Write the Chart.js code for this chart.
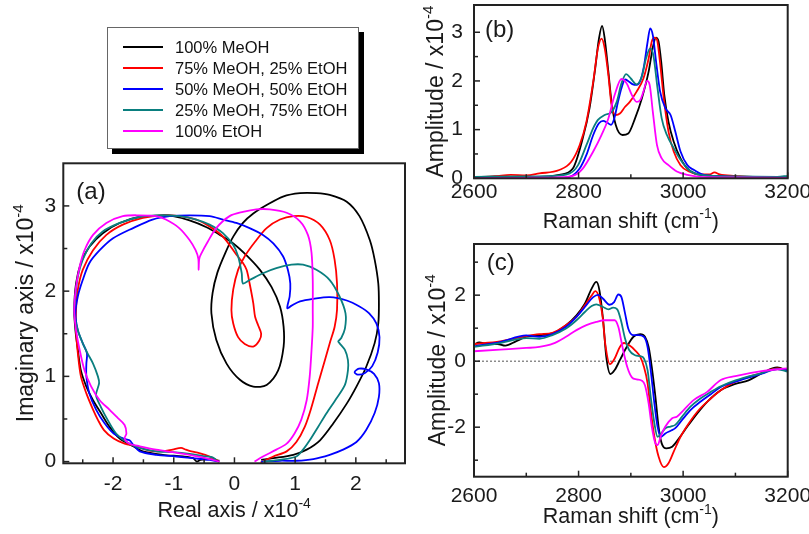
<!DOCTYPE html>
<html>
<head>
<meta charset="utf-8">
<script src="https://cdn.jsdelivr.net/npm/chart.js@4.4.1/dist/chart.umd.min.js"></script>
<style>
  body { margin: 0; background: #fff; }
  #wrap { position: relative; width: 809px; height: 534px; overflow: hidden; background: #fff; font-family: "Liberation Sans", Arial, sans-serif; }
  canvas { position: absolute; }
  #legend { position: absolute; left: 107px; top: 27px; width: 250px; height: 120px; border: 1px solid #666; background: #fff; box-shadow: 5px 5px 0 #000; }
  .row { position: absolute; left: 0; height: 20px; width: 240px; }
  .row i { position: absolute; left: 15px; top: 9px; width: 40px; height: 2px; }
  .row span { position: absolute; left: 67px; top: 0; font-size: 16.5px; line-height: 20px; white-space: nowrap; color: #111; }
</style>
</head>
<body>
<div id="wrap">
  <canvas id="chartA" width="410" height="394" style="left:0;top:140px"></canvas>
  <canvas id="chartC" width="399" height="304" style="left:410px;top:230px"></canvas>
  <canvas id="chartB" width="399" height="236" style="left:410px;top:0"></canvas>
  <div id="legend"></div>
</div>
<script>
// series names (legend) and line colours
const SERIES = ['100% MeOH', '75% MeOH, 25% EtOH', '50% MeOH, 50% EtOH', '25% MeOH, 75% EtOH', '100% EtOH'];
const COLORS = ['#000000', '#ff0000', '#0000ff', '#0a7f7f', '#ff00ff'];

// tick values
const A_X_TICKS = [-2, -1, 0, 1, 2];
const A_X_MINOR = [-2.5, -1.5, -0.5, 0.5, 1.5, 2.5];
const A_Y_TICKS = [0, 1, 2, 3];
const A_Y_MINOR = [0.5, 1.5, 2.5];
const RAMAN_TICKS = [2600, 2800, 3000, 3200];
const RAMAN_MINOR = [2700, 2900, 3100];
const B_Y_TICKS = [0, 1, 2, 3];
const B_Y_MINOR = [0.5, 1.5, 2.5];
const C_Y_TICKS = [-2, 0, 2];
const C_Y_MINOR = [-3, -1, 1, 3];

// (a) complex plane: [real, imaginary] x1e-4
const A_MEOH = [[0.44,0.02],[0.64,0.04],[0.97,0.08],[1.19,0.14],[1.41,0.25],[1.63,0.45],[1.85,0.68],[2.01,0.88],[2.17,1.11],[2.31,1.39],[2.37,1.62],[2.38,1.85],[2.37,2.09],[2.31,2.37],[2.23,2.6],[2.06,2.88],[1.85,3.05],[1.57,3.13],[1.35,3.15],[1.08,3.15],[0.80,3.11],[0.53,3.01],[0.31,2.91],[0.14,2.80],[-0.02,2.64],[-0.15,2.45],[-0.28,2.22],[-0.36,1.98],[-0.38,1.74],[-0.30,1.43],[-0.13,1.15],[0.09,0.96],[0.31,0.88],[0.53,0.90],[0.72,1.07],[0.81,1.35],[0.81,1.58],[0.75,1.82],[0.61,2.05],[0.42,2.25],[0.20,2.42],[-0.02,2.56],[-0.24,2.66],[-0.46,2.75],[-0.74,2.83],[-1.01,2.88],[-1.18,2.89],[-1.57,2.87],[-1.89,2.80],[-2.17,2.68],[-2.39,2.52],[-2.53,2.33],[-2.61,2.09],[-2.64,1.78],[-2.62,1.54],[-2.58,1.31],[-2.53,1.07],[-2.44,0.88],[-2.33,0.72],[-2.20,0.57],[-2.06,0.41],[-1.89,0.27],[-1.67,0.18],[-1.51,0.12],[-1.18,0.08],[-0.85,0.06],[-0.68,0.04],[-0.62,0.0],[-0.56,0.02],[-0.41,0.03],[-0.25,0.01]];
const A_MIX75 = [[0.43,-0.01],[0.64,0.06],[0.86,0.12],[1.02,0.23],[1.16,0.41],[1.27,0.64],[1.38,0.92],[1.49,1.19],[1.57,1.39],[1.65,1.58],[1.69,1.78],[1.69,2.09],[1.65,2.37],[1.57,2.60],[1.41,2.78],[1.19,2.87],[0.97,2.88],[0.75,2.84],[0.53,2.74],[0.34,2.58],[0.17,2.41],[0.06,2.25],[-0.02,2.02],[-0.05,1.78],[-0.02,1.62],[0.06,1.46],[0.17,1.38],[0.31,1.35],[0.41,1.42],[0.44,1.50],[0.39,1.60],[0.34,1.70],[0.31,1.86],[0.25,2.09],[0.20,2.25],[0.14,2.33],[0.03,2.43],[-0.19,2.64],[-0.41,2.76],[-0.63,2.84],[-0.91,2.88],[-1.18,2.89],[-1.51,2.86],[-1.84,2.78],[-2.11,2.66],[-2.33,2.48],[-2.50,2.25],[-2.58,2.02],[-2.61,1.78],[-2.61,1.54],[-2.58,1.27],[-2.53,1.0],[-2.44,0.80],[-2.33,0.61],[-2.25,0.49],[-2.15,0.37],[-1.99,0.27],[-1.81,0.21],[-1.62,0.18],[-1.40,0.13],[-1.18,0.12],[-1.02,0.14],[-0.88,0.16],[-0.80,0.14],[-0.71,0.12],[-0.58,0.10],[-0.41,0.06],[-0.25,0.0]];
const A_MIX50 = [[0.44,0.0],[0.75,0.01],[1.02,0.01],[1.30,0.03],[1.57,0.08],[1.79,0.14],[2.01,0.23],[2.17,0.37],[2.31,0.57],[2.38,0.76],[2.38,0.92],[2.30,1.03],[2.18,1.08],[2.05,1.09],[1.98,1.05],[2.03,1.02],[2.15,1.04],[2.27,1.12],[2.36,1.28],[2.39,1.46],[2.34,1.62],[2.22,1.74],[2.06,1.82],[1.85,1.89],[1.57,1.93],[1.30,1.91],[1.08,1.88],[0.94,1.83],[0.87,1.80],[0.91,1.94],[0.92,2.09],[0.88,2.25],[0.80,2.41],[0.64,2.56],[0.47,2.66],[0.25,2.74],[0.03,2.80],[-0.19,2.84],[-0.41,2.88],[-0.74,2.89],[-1.07,2.88],[-1.35,2.84],[-1.67,2.74],[-2.0,2.62],[-2.22,2.48],[-2.39,2.33],[-2.50,2.13],[-2.58,1.94],[-2.62,1.74],[-2.58,1.54],[-2.50,1.39],[-2.43,1.27],[-2.44,1.15],[-2.44,1.0],[-2.39,0.80],[-2.28,0.61],[-2.14,0.45],[-1.99,0.33],[-1.83,0.27],[-1.73,0.25],[-1.67,0.20],[-1.56,0.12],[-1.29,0.08],[-0.96,0.06],[-0.69,0.04],[-0.41,0.02],[-0.25,0.0]];
const A_MIX25 = [[0.47,0.0],[0.75,0.02],[1.02,0.06],[1.13,0.14],[1.24,0.25],[1.38,0.41],[1.52,0.57],[1.68,0.74],[1.82,0.90],[1.87,1.07],[1.87,1.19],[1.82,1.31],[1.73,1.39],[1.71,1.41],[1.76,1.45],[1.82,1.56],[1.83,1.74],[1.73,1.94],[1.57,2.13],[1.35,2.25],[1.13,2.31],[0.94,2.31],[0.69,2.27],[0.47,2.21],[0.25,2.13],[0.14,2.09],[0.12,2.21],[0.06,2.41],[-0.02,2.54],[-0.19,2.68],[-0.41,2.78],[-0.63,2.84],[-0.91,2.88],[-1.24,2.89],[-1.57,2.87],[-1.89,2.80],[-2.17,2.70],[-2.36,2.56],[-2.50,2.37],[-2.58,2.17],[-2.62,1.94],[-2.64,1.74],[-2.58,1.54],[-2.50,1.39],[-2.42,1.27],[-2.33,1.15],[-2.25,1.0],[-2.23,0.92],[-2.28,0.78],[-2.20,0.64],[-2.09,0.49],[-1.95,0.33],[-1.78,0.23],[-1.56,0.16],[-1.29,0.12],[-1.02,0.11],[-0.74,0.09],[-0.47,0.06],[-0.36,0.05],[-0.30,0.02]];
const A_ETOH = [[0.33,0.0],[0.47,0.06],[0.69,0.14],[0.86,0.21],[0.99,0.33],[1.10,0.49],[1.19,0.72],[1.24,1.0],[1.27,1.31],[1.29,1.58],[1.29,1.78],[1.29,2.13],[1.27,2.45],[1.21,2.66],[1.08,2.82],[0.86,2.92],[0.58,2.96],[0.36,2.96],[0.14,2.93],[-0.08,2.88],[-0.30,2.74],[-0.44,2.58],[-0.54,2.45],[-0.58,2.38],[-0.59,2.25],[-0.595,2.38],[-0.64,2.48],[-0.74,2.60],[-0.91,2.74],[-1.13,2.84],[-1.29,2.88],[-1.57,2.89],[-1.84,2.88],[-2.11,2.80],[-2.33,2.66],[-2.47,2.48],[-2.55,2.29],[-2.61,2.05],[-2.64,1.78],[-2.61,1.54],[-2.55,1.31],[-2.47,1.07],[-2.36,0.88],[-2.22,0.72],[-2.06,0.61],[-1.92,0.51],[-1.81,0.43],[-1.78,0.33],[-1.81,0.27],[-1.73,0.21],[-1.56,0.18],[-1.29,0.14],[-1.02,0.11],[-0.74,0.08],[-0.47,0.04],[-0.25,0.0]];

// (b) amplitude: [Raman shift cm-1, amplitude x1e-4]
const B_MEOH = [[2600,0.02],[2640,0.04],[2680,0.03],[2725,0.03],[2763,0.07],[2789,0.2],[2808,0.82],[2821,1.44],[2831,2.19],[2839,2.87],[2845,3.13],[2850,2.87],[2857,2.19],[2863,1.57],[2871,1.10],[2884,0.89],[2895,0.92],[2908,1.23],[2921,1.64],[2934,2.19],[2943,2.74],[2948,2.89],[2953,2.81],[2958,2.40],[2964,1.71],[2972,1.16],[2982,0.75],[2995,0.41],[3011,0.17],[3033,0.07],[3080,0.04],[3130,0.01],[3160,0.0],[3200,0.02]];
const B_MIX75 = [[2600,0.02],[2640,0.04],[2670,0.07],[2700,0.06],[2725,0.10],[2763,0.17],[2786,0.34],[2802,0.68],[2815,1.16],[2828,1.98],[2837,2.67],[2844,2.87],[2850,2.67],[2857,2.12],[2863,1.51],[2871,1.30],[2879,1.33],[2889,1.47],[2898,1.57],[2911,1.78],[2924,2.05],[2934,2.46],[2940,2.81],[2945,2.89],[2950,2.85],[2955,2.46],[2963,1.64],[2972,0.96],[2982,0.55],[2995,0.27],[3011,0.14],[3033,0.08],[3050,0.08],[3060,0.12],[3070,0.08],[3100,0.05],[3150,0.02],[3200,0.02]];
const B_MIX50 = [[2600,0.0],[2700,0.01],[2760,0.01],[2783,0.03],[2802,0.2],[2815,0.48],[2828,0.89],[2839,1.13],[2847,1.18],[2855,1.14],[2862,1.10],[2868,1.22],[2875,1.55],[2882,1.85],[2889,2.03],[2896,1.99],[2904,1.93],[2911,1.92],[2918,2.0],[2925,2.3],[2932,2.8],[2937,3.08],[2942,2.94],[2949,2.33],[2956,1.78],[2966,1.44],[2976,1.30],[2985,0.96],[2995,0.55],[3008,0.27],[3021,0.17],[3040,0.07],[3080,0.04],[3130,0.02],[3200,0.02]];
const B_MIX25 = [[2600,0.03],[2700,0.04],[2750,0.05],[2783,0.10],[2799,0.27],[2815,0.68],[2828,1.03],[2837,1.20],[2850,1.30],[2863,1.36],[2873,1.57],[2882,1.95],[2891,2.14],[2900,2.05],[2911,1.93],[2921,2.09],[2929,2.46],[2937,2.67],[2943,2.53],[2951,1.85],[2959,1.23],[2969,0.89],[2982,0.62],[2995,0.38],[3011,0.17],[3033,0.07],[3100,0.04],[3180,0.03],[3200,0.05]];
const B_ETOH = [[2600,0.0],[2700,0.01],[2760,0.02],[2789,0.05],[2808,0.2],[2828,0.55],[2844,0.89],[2857,1.23],[2869,1.71],[2882,2.04],[2892,1.95],[2902,1.71],[2911,1.57],[2918,1.61],[2924,1.78],[2931,2.0],[2936,1.92],[2942,1.37],[2950,0.68],[2959,0.41],[2972,0.27],[2988,0.14],[3008,0.07],[3033,0.03],[3100,0.02],[3200,0.01]];

// (c) amplitude: [Raman shift cm-1, amplitude x1e-4]
const C_MEOH = [[2600,0.50],[2610,0.57],[2625,0.52],[2645,0.52],[2660,0.47],[2680,0.60],[2700,0.74],[2725,0.79],[2750,0.84],[2776,1.09],[2796,1.39],[2812,1.74],[2825,2.20],[2834,2.40],[2840,2.14],[2847,1.24],[2853,0.13],[2861,-0.39],[2869,-0.27],[2879,0.03],[2892,0.43],[2905,0.74],[2918,0.82],[2927,0.74],[2934,0.43],[2940,-0.17],[2947,-1.08],[2953,-1.98],[2959,-2.49],[2968,-2.64],[2979,-2.59],[2992,-2.34],[3008,-1.98],[3027,-1.58],[3046,-1.23],[3072,-0.88],[3100,-0.69],[3125,-0.58],[3150,-0.37],[3180,-0.19],[3200,-0.30]];
const C_MIX75 = [[2600,0.52],[2650,0.60],[2700,0.76],[2725,0.82],[2750,0.86],[2776,1.09],[2796,1.34],[2812,1.69],[2825,1.99],[2832,2.12],[2839,1.94],[2846,1.34],[2851,0.53],[2860,-0.09],[2869,0.08],[2879,0.43],[2887,0.55],[2897,0.48],[2908,0.33],[2918,0.13],[2925,-0.17],[2932,-0.67],[2938,-1.48],[2945,-2.29],[2953,-2.89],[2963,-3.21],[2972,-3.09],[2982,-2.74],[2995,-2.29],[3011,-1.88],[3030,-1.48],[3053,-1.13],[3072,-0.88],[3100,-0.62],[3150,-0.36],[3180,-0.22],[3200,-0.26]];
const C_MIX50 = [[2600,0.45],[2650,0.58],[2700,0.78],[2725,0.74],[2750,0.82],[2776,1.04],[2796,1.34],[2812,1.64],[2828,1.94],[2837,2.01],[2847,1.89],[2859,1.71],[2868,1.79],[2876,2.02],[2882,1.94],[2889,1.44],[2895,0.99],[2904,0.79],[2914,0.79],[2925,0.74],[2932,0.43],[2938,-0.27],[2945,-1.28],[2951,-1.98],[2958,-2.29],[2966,-2.19],[2976,-2.11],[2985,-2.03],[2998,-1.78],[3014,-1.48],[3033,-1.23],[3053,-1.0],[3072,-0.78],[3100,-0.62],[3150,-0.38],[3180,-0.24],[3200,-0.28]];
const C_MIX25 = [[2600,0.43],[2650,0.55],[2700,0.70],[2725,0.68],[2750,0.79],[2776,0.99],[2796,1.24],[2812,1.49],[2825,1.67],[2834,1.72],[2847,1.64],[2857,1.57],[2866,1.62],[2874,1.57],[2881,1.24],[2889,0.68],[2897,0.33],[2908,0.18],[2918,0.15],[2925,0.08],[2932,-0.27],[2938,-1.08],[2945,-1.88],[2951,-2.29],[2958,-2.19],[2966,-2.03],[2976,-1.98],[2985,-1.93],[2998,-1.68],[3014,-1.38],[3033,-1.13],[3053,-0.93],[3072,-0.76],[3100,-0.58],[3150,-0.36],[3180,-0.24],[3200,-0.32]];
const C_ETOH = [[2600,0.30],[2650,0.35],[2700,0.40],[2725,0.43],[2751,0.53],[2776,0.74],[2796,0.94],[2815,1.09],[2834,1.19],[2850,1.24],[2869,1.24],[2876,1.04],[2884,0.43],[2893,-0.17],[2902,-0.49],[2911,-0.55],[2921,-0.59],[2927,-0.73],[2934,-1.28],[2940,-1.98],[2947,-2.49],[2951,-2.54],[2958,-2.24],[2966,-1.98],[2979,-1.73],[2988,-1.68],[3001,-1.48],[3020,-1.18],[3046,-0.93],[3072,-0.57],[3100,-0.45],[3150,-0.30],[3200,-0.22]];

const FONT = '"Liberation Sans", Arial, sans-serif';
const INK = '#1a1a1a';

// text with a raised part, e.g. x10^-4
function drawRich(ctx, parts, x, y, rotate, size) {
  const sup = Math.round(size * 0.66);
  ctx.save();
  ctx.translate(x, y);
  if (rotate) ctx.rotate(-Math.PI / 2);
  ctx.fillStyle = INK;
  ctx.textAlign = 'left';
  ctx.textBaseline = 'alphabetic';
  let w = 0;
  parts.forEach(p => { ctx.font = (p.sup ? sup : size) + 'px ' + FONT; w += ctx.measureText(p.t).width; });
  let cx = -w / 2;
  parts.forEach(p => {
    ctx.font = (p.sup ? sup : size) + 'px ' + FONT;
    ctx.fillText(p.t, cx, p.sup ? -size * 0.43 : 0);
    cx += ctx.measureText(p.t).width;
  });
  ctx.restore();
}

const framePlugin = {
  id: 'frame',
  beforeDatasetsDraw(chart, args, o) {
    if (!o.zeroLine) return;
    const { ctx, chartArea: a, scales: { y } } = chart;
    const py = y.getPixelForValue(0);
    ctx.save();
    ctx.strokeStyle = '#555';
    ctx.lineWidth = 1;
    ctx.setLineDash([2, 2]);
    ctx.beginPath();
    ctx.moveTo(a.left, py);
    ctx.lineTo(a.right, py);
    ctx.stroke();
    ctx.restore();
  },
  afterDatasetsDraw(chart, args, o) {
    const { ctx, chartArea: a, scales: { x, y } } = chart;
    ctx.save();
    ctx.strokeStyle = '#222';
    ctx.lineWidth = 1.5;
    const xt = (vals, len) => vals.forEach(v => {
      const px = x.getPixelForValue(v);
      ctx.beginPath(); ctx.moveTo(px, a.bottom); ctx.lineTo(px, a.bottom - len); ctx.stroke();
    });
    const yt = (vals, len) => vals.forEach(v => {
      const py = y.getPixelForValue(v);
      ctx.beginPath(); ctx.moveTo(a.left, py); ctx.lineTo(a.left + len, py); ctx.stroke();
    });
    xt(o.xMajor, 6); xt(o.xMinor, 4);
    yt(o.yMajor, 6); yt(o.yMinor, 4);
    ctx.lineWidth = 2;
    ctx.strokeRect(a.left, a.top, a.right - a.left, a.bottom - a.top);
    drawRich(ctx, o.xTitle, (a.left + a.right) / 2, a.bottom + o.xTitleGap, false, 21.5);
    drawRich(ctx, o.yTitle, a.left - o.yTitleGap, (a.top + a.bottom) / 2, true, 23);
    ctx.font = '24px ' + FONT;
    ctx.fillStyle = INK;
    ctx.textAlign = 'left';
    ctx.textBaseline = 'alphabetic';
    ctx.fillText(o.label, a.left + o.labelAt[0], a.top + o.labelAt[1]);
    ctx.restore();
  }
};

function axis(min, max, ticks, size, pad, horizontal) {
  return {
    type: 'linear', min: min, max: max,
    grid: { display: false, drawTicks: false },
    border: { display: false },
    ticks: { font: { family: FONT, size: 21 }, color: INK, padding: pad, maxRotation: 0, autoSkip: false, callback: v => String(v) },
    afterBuildTicks: s => { s.ticks = ticks.map(v => ({ value: v })); },
    afterFit: s => {
      if (horizontal) s.height = size; else s.width = size;
      s.paddingLeft = 0; s.paddingRight = 0; s.paddingTop = 0; s.paddingBottom = 0;
    }
  };
}

function curves(list, smooth) {
  return list.map((pts, i) => ({
    label: SERIES[i],
    data: pts.map(([x, y]) => ({ x: x, y: y })),
    showLine: true,
    borderColor: COLORS[i],
    backgroundColor: COLORS[i],
    borderWidth: 1.8,
    pointRadius: 0,
    fill: false,
    order: 5 - i,
    tension: smooth ? 0 : 0.3,
    cubicInterpolationMode: smooth ? 'monotone' : 'default'
  }));
}

function makeChart(id, datasets, xs, ys, pad, frame) {
  return new Chart(document.getElementById(id), {
    type: 'scatter',
    data: { datasets: datasets },
    options: {
      responsive: false,
      animation: false,
      events: [],
      layout: { padding: pad },
      scales: { x: xs, y: ys },
      plugins: { legend: { display: false }, tooltip: { enabled: false }, frame: frame }
    },
    plugins: [framePlugin]
  });
}

const XTEN = [{ t: ' / x10' }, { t: '-4', sup: true }];
const RAMAN_TITLE = [{ t: 'Raman shift (cm' }, { t: '-1', sup: true }, { t: ')' }];

makeChart('chartA', curves([A_MEOH, A_MIX75, A_MIX50, A_MIX25, A_ETOH], false),
  axis(-2.82, 2.81, A_X_TICKS, 70.7, 8, true),
  axis(-0.02, 3.5, A_Y_TICKS, 63.3, 7, false),
  { top: 23.3, right: 5, left: 0, bottom: 0 },
  { xMajor: A_X_TICKS, xMinor: A_X_MINOR, yMajor: A_Y_TICKS, yMinor: A_Y_MINOR,
    xTitle: [{ t: 'Real axis' }].concat(XTEN), yTitle: [{ t: 'Imaginary axis' }].concat(XTEN),
    xTitleGap: 54, yTitleGap: 30, label: '(a)', labelAt: [13, 36] });

makeChart('chartB', curves([B_MEOH, B_MIX75, B_MIX50, B_MIX25, B_ETOH], true),
  axis(2600, 3200, RAMAN_TICKS, 57.7, 1, true),
  axis(0, 3.56, B_Y_TICKS, 64, 11, false),
  { top: 5, right: 21.3, left: 0, bottom: 0 },
  { xMajor: RAMAN_TICKS, xMinor: RAMAN_MINOR, yMajor: B_Y_TICKS, yMinor: B_Y_MINOR,
    xTitle: RAMAN_TITLE, yTitle: [{ t: 'Amplitude' }].concat(XTEN),
    xTitleGap: 49.4, yTitleGap: 31, label: '(b)', labelAt: [11, 32] });

makeChart('chartC', curves([C_MEOH, C_MIX75, C_MIX50, C_MIX25, C_ETOH], true),
  axis(2600, 3200, RAMAN_TICKS, 57.3, 7, true),
  axis(-3.5, 3.55, C_Y_TICKS, 64, 8, false),
  { top: 14, right: 21.3, left: 0, bottom: 0 },
  { xMajor: RAMAN_TICKS, xMinor: RAMAN_MINOR, yMajor: C_Y_TICKS, yMinor: C_Y_MINOR,
    xTitle: RAMAN_TITLE, yTitle: [{ t: 'Amplitude' }].concat(XTEN),
    xTitleGap: 46.6, yTitleGap: 29, label: '(c)', labelAt: [12.7, 26], zeroLine: true });

// legend box
const legend = document.getElementById('legend');
SERIES.forEach((name, i) => {
  const row = document.createElement('div');
  row.className = 'row';
  row.style.top = (8.7 + i * 21) + 'px';
  const mark = document.createElement('i');
  mark.style.background = COLORS[i];
  const text = document.createElement('span');
  text.textContent = name;
  row.appendChild(mark);
  row.appendChild(text);
  legend.appendChild(row);
});
</script>
</body>
</html>
